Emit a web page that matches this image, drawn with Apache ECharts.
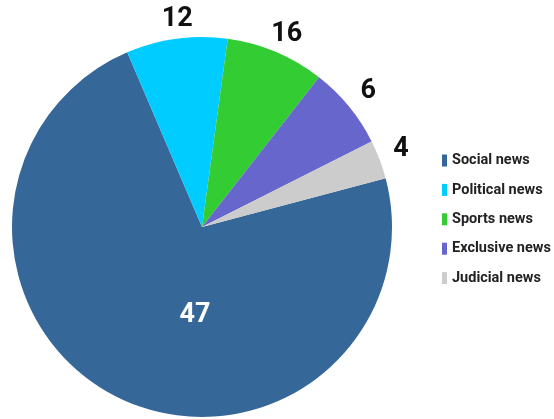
<!DOCTYPE html>
<html><head><meta charset="utf-8">
<script src="https://cdn.jsdelivr.net/npm/echarts@6/dist/echarts.min.js"></script>
<style>html,body{margin:0;padding:0;background:#fff}#c{width:554px;height:419px}</style>
</head><body><div id="c"></div>
<script>
// Categories and the numbers printed on the chart
const categories = ['Social news', 'Political news', 'Sports news', 'Exclusive news', 'Judicial news'];
const labelValues = [47, 12, 16, 6, 4];
// Slice shares as drawn in the picture (percent of the circle)
const sliceShares = [72.7, 8.6, 8.4, 7.0, 3.3];
const colors = ['#356799', '#00CCFF', '#33CC33', '#6666CC', '#CCCCCC'];
const labelNudges = [[36, 0], [4, 5], [1, 5], [0, 1], [-2, -1]];

const font = 'Roboto, "DejaVu Sans Condensed", sans-serif';
const center = [202, 227];
const startAngle = 14.9;

const mainData = categories.map((c, i) => ({
  name: c, value: sliceShares[i], itemStyle: { color: colors[i] },
  label: i === 0 ? { show: true, position: 'inside', offset: labelNudges[0], formatter: String(labelValues[i]),
    color: '#fff', fontSize: 27, fontWeight: 'bold', fontFamily: font } : { show: false }
}));
const ringData = categories.map((c, i) => ({
  name: c, value: sliceShares[i],
  label: { show: i !== 0, formatter: String(labelValues[i]), offset: labelNudges[i] }
}));

const chart = echarts.init(document.getElementById('c'), null, { renderer: 'canvas' });
chart.setOption({
  backgroundColor: '#fff',
  animation: false,
  legend: {
    orient: 'vertical', left: 437, top: 148,
    itemWidth: 5, itemHeight: 12, itemGap: 14.4,
    icon: 'rect',
    data: categories,
    textStyle: { fontFamily: font, fontWeight: 'bold', fontSize: 14.5, lineHeight: 12, color: '#222' }
  },
  series: [{
    type: 'pie', center: center, radius: [0, 190], startAngle: startAngle, clockwise: true,
    data: mainData, labelLine: { show: false }, emphasis: { disabled: true },
    itemStyle: { borderWidth: 0 }
  }, {
    type: 'pie', center: center, radius: [200, 224], startAngle: startAngle, clockwise: true,
    data: ringData, silent: true, legendHoverLink: false,
    itemStyle: { color: 'rgba(0,0,0,0)' },
    label: { position: 'inside', color: '#111', fontSize: 27, fontWeight: 'bold', fontFamily: font },
    labelLine: { show: false }, emphasis: { disabled: true }
  }]
});
</script></body></html>
